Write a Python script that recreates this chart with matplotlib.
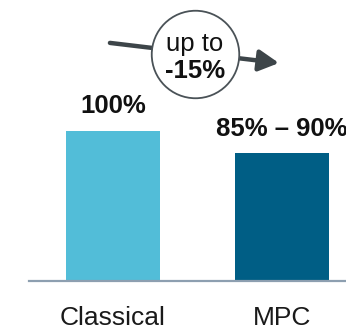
import matplotlib.pyplot as plt

plt.rcParams['font.family'] = ['Liberation Sans', 'DejaVu Sans']

# data
categories = ['Classical', 'MPC']
values = [100, 85]
value_labels = ['100%', '85% – 90%']
bar_colors = ['#52bdd8', '#005e85']
reduction_text = 'up to'
reduction_value = '-15%'
title = 'Energy consumption'

fig = plt.figure(figsize=(3.46, 3.25), dpi=100)
ax = fig.add_axes([29 / 346, 44 / 325, 317 / 346, 281 / 325])

x = list(range(len(categories)))
bars = ax.bar(x, values, width=0.556, color=bar_colors, zorder=2)

ax.set_xlim(-0.497, 1.379)
ax.set_ylim(0, 187.3)

for s in ['top', 'right', 'left']:
    ax.spines[s].set_visible(False)
ax.spines['bottom'].set_color('#8d9fb0')
ax.spines['bottom'].set_linewidth(1.6)
ax.set_yticks([])
ax.set_xticks(x)
ax.set_xticklabels(categories, fontsize=19, color='#1a1a1a')
ax.tick_params(axis='x', length=0, pad=18)

# value labels above bars
for bar, lab in zip(bars, value_labels):
    ax.annotate(lab, (bar.get_x() + bar.get_width() / 2, bar.get_height()),
                xytext=(0, 9), textcoords='offset points', ha='center', va='bottom',
                fontsize=18.5, fontweight='bold', color='#111111', annotation_clip=False)

# reduction arrow passing behind the circle
y0, y1 = values[0] + 58.7, values[1] + 60.3
ax.annotate('', xy=(x[1] - 0.018, y1), xytext=(x[0] - 0.018, y0),
            arrowprops=dict(arrowstyle='-|>,head_length=0.6,head_width=0.32',
                            lw=3.2, color='#3d4549', mutation_scale=20,
                            shrinkA=0, shrinkB=0), zorder=3)
xm, ym = 0.485, 151.3
ax.plot([xm], [ym], marker='o', markersize=63, markerfacecolor='white',
        markeredgecolor='#4a5257', markeredgewidth=1.3, zorder=4, clip_on=False)
ax.text(xm, ym + 6.5, reduction_text, ha='center', va='center', fontsize=18.5,
        color='#111111', zorder=5)
ax.text(xm, ym - 11, reduction_value, ha='center', va='center', fontsize=18.5,
        fontweight='bold', color='#111111', zorder=5)

# title, mostly cut off at the top edge
fig.text(-145 / 346, 1 + 10 / 325, title, fontsize=35, fontweight='bold',
         ha='left', va='baseline', color='#111111')

fig.savefig('out.png', dpi=100)
